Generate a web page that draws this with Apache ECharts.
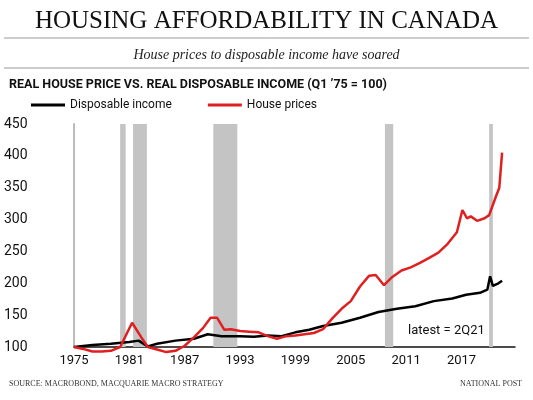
<!doctype html>
<html>
<head>
<meta charset="utf-8">
<script src="https://cdn.jsdelivr.net/npm/echarts@6/dist/echarts.min.js"></script>
<style>
  body { margin: 0; background: #fff; }
  #chart { width: 533px; height: 400px; }
</style>
</head>
<body>
<div id="chart"></div>
<script>
  // [year, index]
  var housePrices = [[1975,100],[1976,97],[1977,93],[1978,93],[1979,94],[1980,100],[1981.3,138],[1982.3,115],[1983,100],
    [1984,96],[1985,92],[1986,94],[1987,102],[1988,115],[1989,130],[1989.8,146],[1990.5,146],[1991.3,127],[1992,128],
    [1993,125],[1994,124],[1995,123],[1996,117],[1997,113],[1998,117],[1999,118],[2000,120],[2001,122],[2002,128],
    [2003,145],[2004,160],[2005,172],[2006,195],[2007,212],[2007.7,213],[2008.6,197],[2009.5,210],[2010.5,220],
    [2011.5,225],[2012.5,232],[2013.5,240],[2014.5,248],[2015.5,262],[2016.5,280],[2017.1,315],[2017.6,302],
    [2018,305],[2018.7,298],[2019.5,302],[2020,307],[2020.7,335],[2021.1,350],[2021.4,405]];
  var disposableIncome = [[1975,100],[1977,103],[1979,105],[1981,108],[1982,110],[1983,101],[1984,105],[1986,110],
    [1988,113],[1989.5,120],[1991,117],[1993,117],[1994.5,116],[1996,118],[1997.5,117],[1999,123],[2000.5,127],
    [2001.5,131],[2002,133],[2004,138],[2006,146],[2008,155],[2010,160],[2012,164],[2014,172],[2016,176],
    [2017.5,182],[2019,185],[2019.8,190],[2020.1,211],[2020.4,196],[2021,200],[2021.4,204]];
  var recessions = [[1980.0,1980.6],[1981.4,1982.9],[1990.1,1992.7],[2008.7,2009.6],[2020.0,2020.4]];
  var yearTicks = [1975,1981,1987,1993,1999,2005,2011,2017];

  var chart = echarts.init(document.getElementById('chart'));
  chart.setOption({
    animation: false,
    title: [
      { text: 'HOUSING AFFORDABILITY IN CANADA', left: 'center', top: 4,
        textStyle: { fontFamily: 'Liberation Serif', fontSize: 25, fontWeight: 'normal', color: '#111' } },
      { text: 'House prices to disposable income have soared', left: 'center', top: 43,
        textStyle: { fontFamily: 'Liberation Serif', fontSize: 14, fontStyle: 'italic', fontWeight: 'normal', color: '#222' } },
      { text: 'REAL HOUSE PRICE VS. REAL DISPOSABLE INCOME (Q1 \u201975 = 100)', left: 4, top: 73,
        textStyle: { fontFamily: 'Roboto', fontSize: 12.5, fontWeight: 'bold', color: '#111' } },
      { text: 'SOURCE: MACROBOND, MACQUARIE MACRO STRATEGY', left: 4, top: 375,
        textStyle: { fontFamily: 'Liberation Serif', fontSize: 8, fontWeight: 'normal', color: '#333' } },
      { text: 'NATIONAL POST', right: 6, top: 375,
        textStyle: { fontFamily: 'Liberation Serif', fontSize: 8, fontWeight: 'normal', color: '#333' } }
    ],
    graphic: [
      { type: 'line', shape: { x1: 4, y1: 38, x2: 529, y2: 38 }, style: { stroke: '#999', lineWidth: 1 } },
      { type: 'line', shape: { x1: 4, y1: 68, x2: 529, y2: 68 }, style: { stroke: '#999', lineWidth: 1 } },
      { type: 'text', left: 408, top: 324, style: { text: 'latest = 2Q21', font: '13px Roboto', fill: '#111' } }
    ],
    legend: {
      left: 26, top: 94, itemWidth: 34, itemHeight: 3, itemGap: 36,
      icon: 'rect',
      textStyle: { fontFamily: 'Roboto', fontSize: 12, color: '#111' },
      data: ['Disposable income', 'House prices']
    },
    grid: { left: 74, right: 18, top: 124, bottom: 53 },
    xAxis: {
      type: 'value', min: 1975, max: 2022.8,
      axisLine: { onZero: false, lineStyle: { color: '#111', width: 1.5 } },
      axisTick: { show: false },
      splitLine: { show: false },
      axisLabel: { customValues: yearTicks, formatter: function (v) { return String(v); },
        fontFamily: 'Roboto', fontSize: 13, color: '#111', margin: 7 }
    },
    yAxis: {
      type: 'value', min: 100, max: 450, interval: 50,
      axisLine: { show: true, lineStyle: { color: '#bbb', width: 2 } },
      axisTick: { show: false },
      splitLine: { show: false },
      axisLabel: { fontFamily: 'Roboto', fontSize: 14, color: '#111', align: 'left', margin: 70 }
    },
    series: [
      { name: 'Disposable income', type: 'line', data: disposableIncome, showSymbol: false, z: 3, clip: false,
        lineStyle: { color: '#000', width: 2.5 }, itemStyle: { color: '#000' },
        markArea: { silent: true, itemStyle: { color: '#c4c4c4' },
          data: recessions.map(function (r) { return [{ xAxis: r[0] }, { xAxis: r[1] }]; }) } },
      { name: 'House prices', type: 'line', data: housePrices, showSymbol: false, z: 4, clip: false,
        lineStyle: { color: '#e02020', width: 2.5 }, itemStyle: { color: '#e02020' } }
    ]
  });
</script>
</body>
</html>
